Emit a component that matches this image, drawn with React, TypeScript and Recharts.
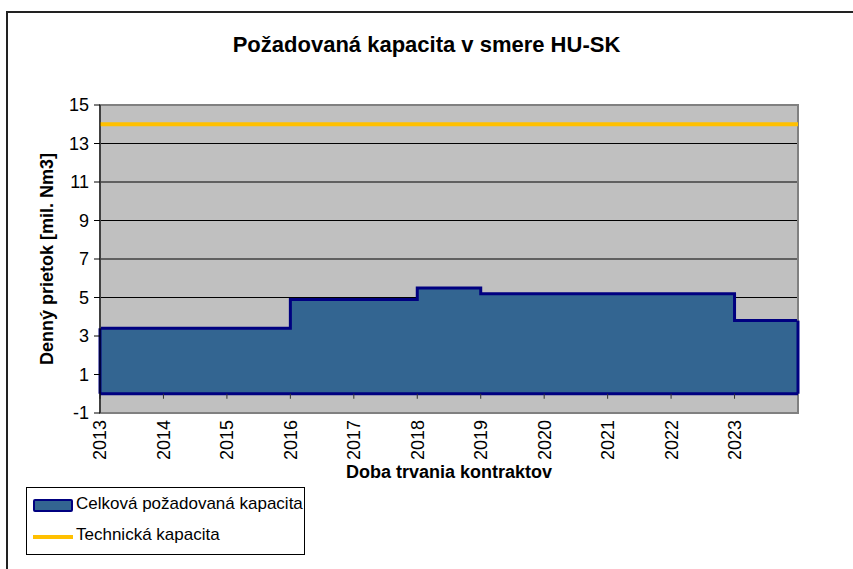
import React from 'react'
import { ComposedChart, Area, Line, XAxis, YAxis, CartesianGrid, ReferenceLine, ReferenceArea } from 'recharts'

// contract years (last entry closes the final step at the right edge)
const years = [2013, 2014, 2015, 2016, 2017, 2018, 2019, 2020, 2021, 2022, 2023, 2024]
const requested = [3.4, 3.4, 3.4, 4.9, 4.9, 5.5, 5.2, 5.2, 5.2, 5.2, 3.8, 3.8]
const technical = [14, 14, 14, 14, 14, 14, 14, 14, 14, 14, 14, 14]
const xTicks = [2013, 2014, 2015, 2016, 2017, 2018, 2019, 2020, 2021, 2022, 2023]
const yTicks = [-1, 1, 3, 5, 7, 9, 11, 13, 15]

const data = years.map((year, i) => ({
  year,
  requested: requested[i],
  technical: technical[i]
}))

const FONT = 'Arial, "Liberation Sans", sans-serif'
const AREA_FILL = '#336591'
const AREA_STROKE = '#000080'
const TECH_COLOR = '#FFC000'

const YearTick = (props: any) => {
  const { x, y, payload } = props
  const ty = y - 1
  return (
    <text
      x={x}
      y={ty}
      transform={`rotate(-90, ${x}, ${ty})`}
      textAnchor="end"
      dy="0.36em"
      fontSize={18}
      fontFamily={FONT}
      fill="#000"
    >
      {payload.value}
    </text>
  )
}

const App: React.FC = () => {
  const first = data[0]
  const last = data[data.length - 1]
  return (
    <div style={{ position: 'absolute', left: 0, top: 0, width: 853, height: 569, overflow: 'hidden', background: '#fff', fontFamily: FONT }}>
      <div style={{ position: 'absolute', left: 6, top: 11, width: 900, height: 600, border: '2px solid #222' }} />
      <div style={{ position: 'absolute', left: 0, top: 32, width: 853, textAlign: 'center', fontSize: 22, fontWeight: 'bold', color: '#000' }}>
        Požadovaná kapacita v smere HU-SK
      </div>
      <div style={{ position: 'absolute', left: 0, top: 0 }}>
        <ComposedChart width={853} height={569} data={data} margin={{ top: 105, right: 55, left: 0, bottom: 0 }}>
          <CartesianGrid horizontal vertical={false} stroke="#000" strokeWidth={1} fill="#C0C0C0" fillOpacity={1} />
          <XAxis
            dataKey="year"
            type="number"
            domain={[2013, 2024]}
            ticks={xTicks}
            interval={0}
            axisLine={false}
            tickLine={false}
            height={156}
            tick={<YearTick />}
            label={{ value: 'Doba trvania kontraktov', position: 'insideTop', offset: 52, fontSize: 18, fontWeight: 'bold', fill: '#000', fontFamily: FONT }}
          />
          <YAxis
            type="number"
            domain={[-1, 15]}
            ticks={yTicks}
            interval={0}
            width={100}
            axisLine={{ stroke: '#000', strokeWidth: 1 }}
            tickLine={{ stroke: '#000', strokeWidth: 1 }}
            tickSize={6}
            tickMargin={5}
            tick={{ fontSize: 18, fill: '#000', fontFamily: FONT }}
            label={{ value: 'Denný prietok [mil. Nm3]', angle: -90, position: 'insideLeft', offset: 47, fontSize: 18, fontWeight: 'bold', fill: '#000', fontFamily: FONT, style: { textAnchor: 'middle' } }}
          />
          <Area
            type="stepAfter"
            dataKey="requested"
            baseValue={0}
            fill={AREA_FILL}
            fillOpacity={1}
            stroke={AREA_STROKE}
            strokeWidth={3}
            isAnimationActive={false}
          />
          <ReferenceLine y={0} stroke={AREA_STROKE} strokeWidth={3} />
          <ReferenceLine segment={[{ x: first.year, y: 0 }, { x: first.year, y: first.requested }]} stroke={AREA_STROKE} strokeWidth={3} />
          <ReferenceLine segment={[{ x: last.year, y: 0 }, { x: last.year, y: last.requested }]} stroke={AREA_STROKE} strokeWidth={3} />
          {xTicks.map(yr => (
            <ReferenceLine key={yr} segment={[{ x: yr, y: 0 }, { x: yr, y: -0.26 }]} stroke="#333" strokeWidth={1} />
          ))}
          <Line
            type="linear"
            dataKey="technical"
            stroke={TECH_COLOR}
            strokeWidth={4}
            dot={false}
            activeDot={false}
            isAnimationActive={false}
          />
          <ReferenceArea x1={2013} x2={2024} y1={-1} y2={15} fill="none" stroke="#808080" strokeWidth={2} />
        </ComposedChart>
      </div>
      <div style={{ position: 'absolute', left: 26, top: 487, width: 277, height: 66, border: '1px solid #000', background: '#fff', fontSize: 17, color: '#000' }}>
        <div style={{ position: 'absolute', left: 6, top: 11, width: 36, height: 9, background: AREA_FILL, border: `2px solid ${AREA_STROKE}`, borderRadius: 2 }} />
        <div style={{ position: 'absolute', left: 49, top: 6, whiteSpace: 'nowrap' }}>Celková požadovaná kapacita</div>
        <div style={{ position: 'absolute', left: 6, top: 47, width: 40, height: 4, background: TECH_COLOR }} />
        <div style={{ position: 'absolute', left: 49, top: 37, whiteSpace: 'nowrap' }}>Technická kapacita</div>
      </div>
    </div>
  )
}

export default App
